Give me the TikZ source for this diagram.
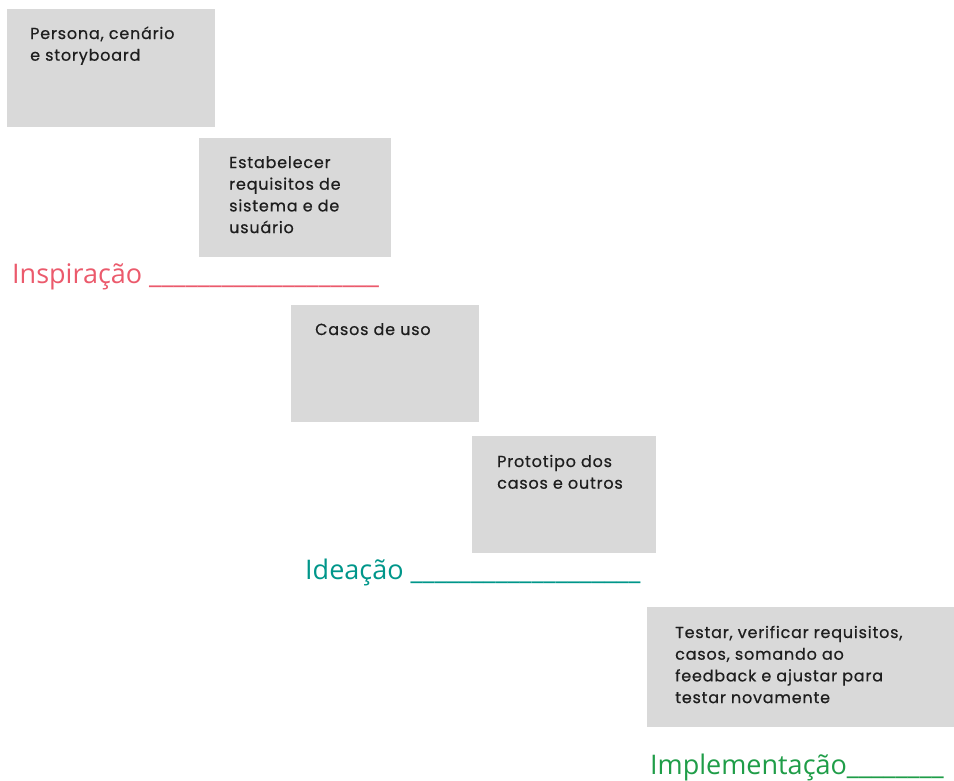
\documentclass[tikz,border=0pt]{standalone}
\usepackage{fontspec}
\setmainfont{Poppins}[LetterSpace=5, FakeBold=0.6]
\newfontfamily\labelfont{Open Sans}
\definecolor{boxgray}{HTML}{D9D9D9}
\definecolor{boxtext}{HTML}{1E1E1E}
\definecolor{inspir}{HTML}{EB5A6C}
\definecolor{ideac}{HTML}{00968A}
\definecolor{implem}{HTML}{1F9D48}
\newcommand{\cardlines}[1]{\parbox[t]{300pt}{\raggedright #1}}
\tikzset{
  card/.style={fill=boxgray, draw=none, anchor=north west, inner sep=0pt},
  cardtext/.style={anchor=base west, inner sep=0pt, text=boxtext,
    font=\fontsize{16}{21.7}\selectfont},
  phase/.style={anchor=base west, inner sep=0pt, font=\labelfont\fontsize{27}{32}\selectfont}
}
\begin{document}
\begin{tikzpicture}[x=1pt,y=-1pt]
\useasboundingbox (0,0) rectangle (954,780);
\node[card, minimum width=208pt, minimum height=118pt] (b1) at (7,9) {};
\node[cardtext] (t1) at (30,39) {\cardlines{Persona, cenário\\e storyboard}};
\node[card, minimum width=192pt, minimum height=119pt] (b2) at (199,138) {};
\node[cardtext] (t2) at (229,168) {\cardlines{Estabelecer\\requisitos de\\sistema e de\\usuário}};
\node[phase, text=inspir] (p1) at (12,283) {Inspiração \_\_\_\_\_\_\_\_\_\_\_\_\_\_\_\_\_\_\_};
\node[card, minimum width=188pt, minimum height=117pt] (b3) at (291,305) {};
\node[cardtext] (t3) at (315,335) {\cardlines{Casos de uso}};
\node[card, minimum width=184pt, minimum height=117pt] (b4) at (472,436) {};
\node[cardtext] (t4) at (497,467) {\cardlines{Prototipo dos\\casos e outros}};
\node[phase, text=ideac] (p2) at (305,579) {Ideação \_\_\_\_\_\_\_\_\_\_\_\_\_\_\_\_\_\_\_};
\node[card, minimum width=307pt, minimum height=120pt] (b5) at (647,607) {};
\node[cardtext] (t5) at (675,638) {\cardlines{Testar, verificar requisitos,\\casos, somando ao\\feedback e ajustar para\\testar novamente}};
\node[phase, text=implem] (p3) at (650,774) {Implementação\_\_\_\_\_\_\_\_};
\end{tikzpicture}
\end{document}
